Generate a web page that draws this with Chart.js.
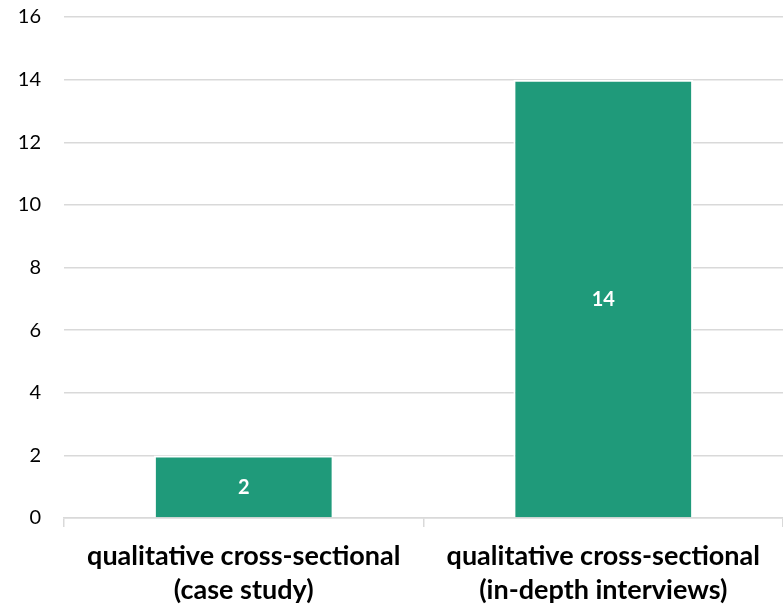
<!DOCTYPE html>
<html>
<head>
<meta charset="utf-8">
<script src="https://cdn.jsdelivr.net/npm/chart.js@4/dist/chart.umd.min.js"></script>
<style>
  html, body { margin: 0; padding: 0; background: #ffffff; }
  #wrap { width: 783px; height: 607px; position: relative; }
</style>
</head>
<body>
<div id="wrap"><canvas id="chart"></canvas></div>
<script>
var categories = [
  ["qualitative cross-sectional", "(case study)"],
  ["qualitative cross-sectional", "(in-depth interviews)"]
];
var counts = [2, 14];
var yTicks = [0, 2, 4, 6, 8, 10, 12, 14, 16];

var BAR_COLOR = "#1F9A7A";
var GRID_COLOR = "#D9D9D9";
var FONT = "Lato, 'Open Sans', sans-serif";

// white value labels in the middle of each bar
var barLabels = {
  id: "barLabels",
  afterDatasetsDraw: function (chart) {
    var ctx = chart.ctx;
    var meta = chart.getDatasetMeta(0);
    ctx.save();
    ctx.fillStyle = "#ffffff";
    ctx.font = "bold 20px " + FONT;
    ctx.textAlign = "center";
    ctx.textBaseline = "middle";
    meta.data.forEach(function (bar, i) {
      var mid = (bar.y + bar.base) / 2;
      ctx.fillText(String(counts[i]), bar.x, mid + 1);
    });
    ctx.restore();
  },
};

new Chart(document.getElementById("chart"), {
  type: "bar",
  data: {
    labels: categories,
    datasets: [
      {
        data: counts,
        backgroundColor: BAR_COLOR,
        borderColor: "#ffffff",
        borderWidth: 2,
        categoryPercentage: 1,
        barPercentage: 0.5,
      },
    ],
  },
  options: {
    responsive: true,
    maintainAspectRatio: false,
    animation: false,
    layout: { padding: { top: 17, right: 0, left: 0, bottom: 0 } },
    plugins: {
      legend: { display: false },
      tooltip: { enabled: false },
    },
    scales: {
      x: {
        grid: {
          display: true,
          drawOnChartArea: false,
          drawTicks: true,
          tickLength: 9,
          color: GRID_COLOR,
          lineWidth: 1.5,
        },
        border: { display: true, color: GRID_COLOR, width: 1.5 },
        ticks: {
          color: "#000000",
          padding: 13,
          font: { family: FONT, size: 27, weight: "bold", lineHeight: 1.24 },
          maxRotation: 0,
          autoSkip: false,
        },
        afterFit: function (scale) {
          scale.height = 89;
        },
      },
      y: {
        min: 0,
        max: 16,
        afterBuildTicks: function (scale) {
          scale.ticks = yTicks.map(function (v) {
            return { value: v };
          });
        },
        grid: {
          color: GRID_COLOR,
          lineWidth: 1.5,
          drawTicks: true,
          tickLength: 20,
          tickColor: "rgba(0,0,0,0)",
        },
        border: { display: false },
        ticks: {
          color: "#000000",
          padding: 3,
          font: { family: FONT, size: 20 },
        },
        afterFit: function (scale) {
          scale.width = 64;
        },
      },
    },
  },
  plugins: [barLabels],
});
</script>
</body>
</html>
